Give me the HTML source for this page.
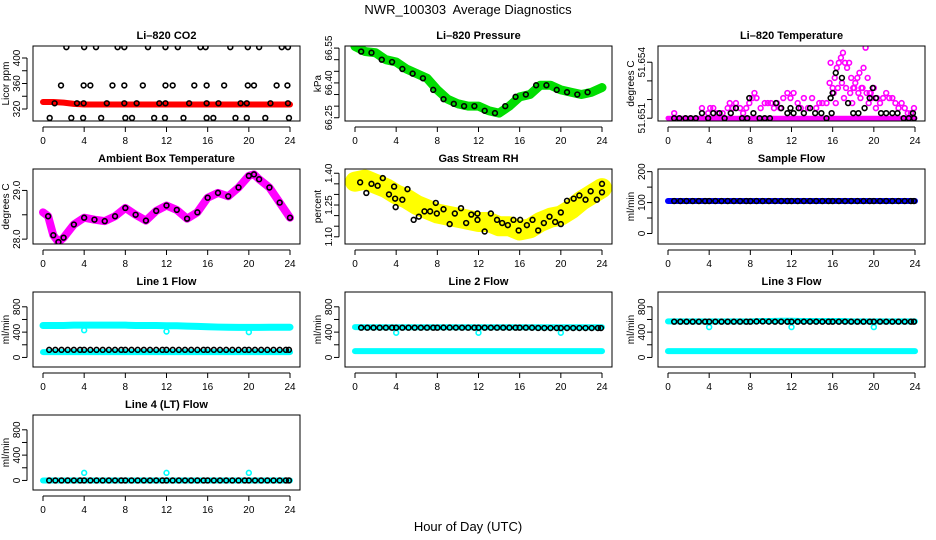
<!DOCTYPE html>
<html><head><meta charset="utf-8">
<style>
html,body{margin:0;padding:0;background:#fff;}
svg{display:block;font-family:"Liberation Sans",Arial,sans-serif;}
</style></head>
<body>
<svg id="chart" width="936" height="540" viewBox="0 0 936 540" xmlns="http://www.w3.org/2000/svg">
<rect width="936" height="540" fill="#fff"/>
<text x="468" y="14" text-anchor="middle" font-size="13">NWR_100303&#160; Average Diagnostics</text>
<text x="468" y="531" text-anchor="middle" font-size="13">Hour of Day (UTC)</text>
</svg>
<script>
const hours = [0,1,2,3,4,5,6,7,8,9,10,11,12,13,14,15,16,17,18,19,20,21,22,23,24];
const xTicks = [0,4,8,12,16,20,24];
const flowTimes = [0.6,1.2,1.8,2.4,3.0,3.6,4.0,4.6,5.2,5.8,6.4,7.0,7.6,8.0,8.6,9.2,9.8,10.4,11.0,11.6,12.0,12.6,13.2,13.8,14.4,15.0,15.6,16.0,16.6,17.2,17.8,18.4,19.0,19.6,20.0,20.6,21.2,21.8,22.4,23.0,23.6,23.9];

// CO2
const co2Band = [331,331,330,328,327,327,327,327,327,327,327,327,327,327,327,327,327,327,327,327,327,327,327,327,327];
const co2BlackT = [2.27,4.0,5.15,7.25,7.9,10.2,11.9,13.1,15.3,15.8,18.2,19.9,21.0,23.2,23.8,
 1.75,3.95,4.6,6.75,7.9,9.7,11.9,12.6,14.7,15.9,17.6,19.9,20.5,22.7,23.75,
 1.13,3.3,3.95,6.2,7.9,9.1,11.3,11.9,14.2,15.9,17.05,19.2,19.8,22.1,23.8,
 0.65,2.75,3.9,5.65,8.0,8.65,10.8,11.85,13.65,15.9,16.55,18.7,19.8,21.6,23.9];
const co2BlackV = [417,417,417,417,417,417,417,417,417,417,417,417,417,417,417,
 357,357,357,357,357,357,357,357,357,357,357,357,357,357,357,
 329,329,329,329,329,329,329,329,329,329,329,329,329,329,329,
 306,306,306,306,306,306,306,306,306,306,306,306,306,306,306];

// Pressure
const presBand = [66.557,66.535,66.53,66.50,66.49,66.46,66.44,66.42,66.37,66.33,66.31,66.30,66.30,66.28,66.27,66.30,66.34,66.35,66.39,66.39,66.37,66.36,66.35,66.36,66.38];

// Li-820 temperature (levels)
const tempMagT = [0.6,3.3,3.9,4.1,4.4,4.8,5.3,5.8,6.0,6.3,6.6,7.0,7.3,7.6,7.9,8.2,8.4,8.6,9.0,9.4,9.7,10.0,10.3,10.6,10.9,11.2,11.6,11.9,12.2,12.6,12.9,13.2,13.6,14.0,14.4,14.7,15.0,15.4,15.7,15.8,16.0,16.2,16.4,16.6,16.8,17.0,17.2,17.4,17.6,17.8,18.0,18.2,18.4,18.6,18.8,19.0,19.2,19.4,19.6,19.8,20.0,20.3,20.6,20.9,21.2,21.5,21.8,22.1,22.4,22.7,23.0,23.3,23.6,23.9,16.1,16.5,16.9,17.3,17.7,18.1,18.5,18.9,19.3,19.7,16.3,17.1,17.9,18.7,19.5,20.2];
const tempMagK = [1,2,1,2,2,1,1,2,3,2,3,2,1,2,3,4,5,4,2,3,3,3,2,3,2,4,5,4,5,3,2,4,2,4,2,3,3,3,7,11,6,8,10,11,12,13,11,10,11,8,6,7,8,9,6,10,14,8,5,4,6,4,3,4,5,4,4,3,2,3,2,1,1,2,5,6,7,6,5,6,5,6,5,5,3,4,3,4,3,2];
const tempBlkT = [0.6,1.1,1.7,2.2,2.7,3.3,3.9,4.4,5.0,5.5,6.1,6.6,7.2,7.7,7.9,8.3,8.9,9.4,9.9,10.5,11.0,11.6,11.9,12.2,12.7,13.2,13.8,14.3,14.9,15.4,15.9,15.8,16.0,16.3,16.9,17.5,18.0,18.5,19.1,19.6,19.9,20.2,20.7,21.2,21.8,22.3,22.9,23.4,23.8,23.9];
const tempBlkK = [0,0,0,0,0,1,0,1,1,0,1,2,0,0,4,1,0,0,0,3,2,1,2,1,2,1,2,1,1,0,1,4,5,9,8,3,1,1,2,4,6,4,1,1,1,1,0,0,1,0];

// Ambient box temperature
const ambT = [0,0.5,1,1.5,2,3,4,5,6,7,8,9,10,11,12,13,14,15,16,17,18,19,20,20.5,21,22,23,24];
const ambV = [28.55,28.47,28.08,27.94,28.03,28.3,28.44,28.4,28.37,28.47,28.64,28.5,28.38,28.58,28.69,28.6,28.42,28.55,28.85,28.95,28.88,29.06,29.3,29.33,29.23,29.06,28.75,28.44];

// Gas stream RH
const rhBand = [1.36,1.37,1.35,1.33,1.30,1.28,1.25,1.23,1.21,1.20,1.19,1.18,1.17,1.17,1.15,1.15,1.13,1.14,1.17,1.19,1.20,1.23,1.27,1.30,1.33];
const rhBlkT = [0.5,1.1,1.6,2.2,2.7,3.3,3.8,3.9,3.95,4.6,5.1,5.7,6.2,6.75,7.3,7.85,7.95,8.6,9.2,9.7,10.3,10.8,11.3,11.9,11.9,12.6,13.2,13.8,14.3,14.85,15.4,15.9,16.05,16.7,17.25,17.8,18.35,18.9,19.45,20,20,20.6,21.25,21.8,22.4,22.9,23.5,24,24];
const rhBlkV = [1.357,1.307,1.35,1.341,1.377,1.30,1.337,1.28,1.24,1.275,1.325,1.18,1.195,1.22,1.22,1.26,1.21,1.23,1.16,1.21,1.235,1.165,1.205,1.21,1.18,1.125,1.21,1.18,1.165,1.155,1.18,1.13,1.18,1.155,1.18,1.13,1.165,1.195,1.17,1.215,1.16,1.27,1.28,1.295,1.275,1.315,1.275,1.35,1.31];

// Flows
const sampleBand = [105,105,105,105,105,105,105,105,105,105,105,105,105,105,105,105,105,105,105,105,105,105,105,105,105];
const sampleBlk = [105,105,105,105,105,105,105,105,105,105,105,105,105,105,105,105,105,105,105,105,105,105,105,105,105];
const l1Upper = [505,505,505,510,510,510,510,510,510,505,505,505,500,500,495,490,485,480,478,475,475,475,478,478,478];
const l1Lower = [85,85,85,85,85,85,85,85,85,85,85,85,85,85,85,85,85,85,85,85,85,85,85,85,85];
const l1Blk = [120,120,120,120,120,120,120,120,120,120,120,120,120,120,120,120,120,120,120,120,120,120,120,120,120];
const l1OutT = [4,12,20]; const l1OutV = [430,410,400];
const l2Upper = [480,478,478,478,478,478,478,478,478,478,478,478,478,478,478,478,478,478,478,478,478,478,478,478,478];
const l2Lower = [100,100,100,100,100,100,100,100,100,100,100,100,100,100,100,100,100,100,100,100,100,100,100,100,100];
const l2Blk = [470,470,470,470,470,470,470,470,470,472,470,470,470,470,470,470,470,470,465,465,465,465,465,465,465];
const l2OutT = [4,12,20]; const l2OutV = [390,390,390];
const l3Upper = [570,570,570,570,570,570,570,570,570,575,575,580,580,575,575,575,575,575,570,570,570,570,570,570,570];
const l3Lower = [100,100,100,100,100,100,100,100,100,100,100,100,100,100,100,100,100,100,100,100,100,100,100,100,100];
const l3Blk = [565,565,565,565,565,565,565,565,565,570,565,565,565,565,565,565,565,565,565,565,565,565,565,565,565];
const l3OutT = [4,12,20]; const l3OutV = [480,480,480];
const l4Band = [0,0,0,0,0,0,0,0,0,0,0,0,0,0,0,0,0,0,0,0,0,0,0,0,0];
const l4Blk = [0,0,0,0,0,0,0,0,0,0,0,0,0,0,0,0,0,0,0,0,0,0,0,0,0];
const l4OutT = [4,12,20]; const l4OutV = [120,120,120];

const NS = "http://www.w3.org/2000/svg";
const svg = document.getElementById('chart');
function mk(tag, attrs, parent){ const e=document.createElementNS(NS,tag); for(const k in attrs) e.setAttribute(k,attrs[k]); (parent||svg).appendChild(e); return e; }
function interp(arr, t){ const i=Math.min(23,Math.floor(t)); const f=t-i; return arr[i]*(1-f)+arr[i+1]*f; }

const colLeft = [33,345,658];
const rowTop = [46,169,292,415];
function panel(o){
  const L=colLeft[o.col], T=rowTop[o.row], W=267, Hh=75;
  const g = mk('g',{});
  
  
  const x = h => L+10+h*(247/24);
  const y = v => T+Hh-(v-o.ymin)/(o.ymax-o.ymin)*Hh;
  const t = mk('text',{x:L+W/2,y:T-7,'text-anchor':'middle','font-size':11,'font-weight':'bold'},g);
  t.textContent=o.title;
  
  
  const yl = mk('text',{transform:`translate(${L-24},${T+Hh/2}) rotate(-90)`,'text-anchor':'middle','font-size':10},g);
  yl.textContent=o.ylab;
  
  
  mk('line',{x1:x(0),x2:x(24),y1:T+Hh+6,y2:T+Hh+6,stroke:'#000'},g);
  xTicks.forEach(h=>{ mk('line',{x1:x(h),x2:x(h),y1:T+Hh+6,y2:T+Hh+11,stroke:'#000'},g);
    const tl=mk('text',{x:x(h),y:T+Hh+23,'text-anchor':'middle','font-size':10},g); tl.textContent=h;
    
     });
  mk('line',{x1:L-6,x2:L-6,y1:y(o.yt[0]),y2:y(o.yt[o.yt.length-1]),stroke:'#000'},g);
  o.yt.forEach((v,i)=>{ mk('line',{x1:L-11,x2:L-6,y1:y(v),y2:y(v),stroke:'#000'},g);
    if(o.ylabIdx.includes(i)){ const tl=mk('text',{transform:`translate(${L-13},${y(v)}) rotate(-90)`,'text-anchor':'middle','font-size':10},g); tl.textContent=o.fmt(v);
      
       } });
  const clip = 'c'+o.name;
  const cp = mk('clipPath',{id:clip},g); mk('rect',{x:L,y:T,width:W,height:Hh},cp);
  const pg = mk('g',{'clip-path':`url(#${clip})`},g);
  o.draw(pg,x,y);
  mk('rect',{x:L,y:T,width:W,height:Hh,fill:'none',stroke:'#000'},g);
}
function band(g,x,y,ts,vs,color,w){
  const p=mk('polyline',{points:ts.map((t,i)=>x(t)+','+y(vs[i])).join(' '),fill:'none',stroke:color,'stroke-width':w,'stroke-linejoin':'round','stroke-linecap':'round'},g);
  
  
}
function pts(g,x,y,ts,vs,color){
  ts.forEach((t,i)=>{ const c=mk('circle',{cx:x(t),cy:y(vs[i]),r:2.4,fill:'none',stroke:color,'stroke-width':1.6},g);
    
     });
}
const flowYt=[0,200,400,600,800], flowLab=[0,2,4], intF=v=>String(v);

panel({name:'li820-co2-panel',title:'Li\u2013820 CO2',ylab:'Licor ppm',col:0,row:0,ymin:301.2,ymax:418.8,yt:[320,340,360,380,400],ylabIdx:[0,2,4],fmt:intF,
 draw:(g,x,y)=>{ band(g,x,y,hours,co2Band,'#ff0000',6); pts(g,x,y,co2BlackT,co2BlackV,'#000'); }});
panel({name:'li820-pressure-panel',title:'Li\u2013820 Pressure',ylab:'kPa',col:1,row:0,ymin:66.236,ymax:66.559,yt:[66.25,66.30,66.35,66.40,66.45,66.50,66.55],ylabIdx:[0,3,6],fmt:v=>v.toFixed(2),
 draw:(g,x,y)=>{ band(g,x,y,hours,presBand,'#00dd00',9); pts(g,x,y,hours.slice(1,24).map(h=>h-0.4),presBand.slice(1,24),'#000'); }});
panel({name:'li820-temperature-panel',title:'Li\u2013820 Temperature',ylab:'degrees C',col:2,row:0,ymin:51.65085,ymax:51.65487,yt:[51.651,51.652,51.653,51.654],ylabIdx:[0,3],fmt:v=>v.toFixed(3),
 draw:(g,x,y)=>{ band(g,x,y,[0,24],[51.651,51.651],'#ff00ff',5); pts(g,x,y,tempMagT,tempMagK.map(k=>51.651+k*0.00027),'#ff00ff'); pts(g,x,y,tempBlkT,tempBlkK.map(k=>51.651+k*0.00027),'#000'); }});
panel({name:'ambient-box-temperature-panel',title:'Ambient Box Temperature',ylab:'degrees C',col:0,row:1,ymin:27.90,ymax:29.44,yt:[28.0,28.5,29.0],ylabIdx:[0,2],fmt:v=>v.toFixed(1),
 draw:(g,x,y)=>{ band(g,x,y,ambT,ambV,'#ff00ff',8); pts(g,x,y,ambT.slice(1),ambV.slice(1),'#000'); }});
panel({name:'gas-stream-rh-panel',title:'Gas Stream RH',ylab:'percent',col:1,row:1,ymin:1.066,ymax:1.42,yt:[1.10,1.15,1.20,1.25,1.30,1.35,1.40],ylabIdx:[0,3,6],fmt:v=>v.toFixed(2),
 draw:(g,x,y)=>{ band(g,x,y,hours,rhBand,'#ffff00',20); pts(g,x,y,rhBlkT,rhBlkV,'#000'); }});
panel({name:'sample-flow-panel',title:'Sample Flow',ylab:'ml/min',col:2,row:1,ymin:-34,ymax:208.6,yt:[0,50,100,150,200],ylabIdx:[0,2,4],fmt:intF,
 draw:(g,x,y)=>{ band(g,x,y,hours,sampleBand,'#0000ff',6); pts(g,x,y,flowTimes,flowTimes.map(t=>interp(sampleBlk,t)),'#000'); }});
panel({name:'line1-flow-panel',title:'Line 1 Flow',ylab:'ml/min',col:0,row:2,ymin:-151,ymax:1034,yt:flowYt,ylabIdx:flowLab,fmt:intF,
 draw:(g,x,y)=>{ band(g,x,y,hours,l1Upper,'#00ffff',7); band(g,x,y,hours,l1Lower,'#00ffff',6); pts(g,x,y,l1OutT,l1OutV,'#00ffff'); pts(g,x,y,flowTimes,flowTimes.map(t=>interp(l1Blk,t)),'#000'); }});
panel({name:'line2-flow-panel',title:'Line 2 Flow',ylab:'ml/min',col:1,row:2,ymin:-151,ymax:1034,yt:flowYt,ylabIdx:flowLab,fmt:intF,
 draw:(g,x,y)=>{ band(g,x,y,hours,l2Upper,'#00ffff',6); band(g,x,y,hours,l2Lower,'#00ffff',6); pts(g,x,y,l2OutT,l2OutV,'#00ffff'); pts(g,x,y,flowTimes,flowTimes.map(t=>interp(l2Blk,t)),'#000'); }});
panel({name:'line3-flow-panel',title:'Line 3 Flow',ylab:'ml/min',col:2,row:2,ymin:-151,ymax:1034,yt:flowYt,ylabIdx:flowLab,fmt:intF,
 draw:(g,x,y)=>{ band(g,x,y,hours,l3Upper,'#00ffff',6); band(g,x,y,hours,l3Lower,'#00ffff',6); pts(g,x,y,l3OutT,l3OutV,'#00ffff'); pts(g,x,y,flowTimes,flowTimes.map(t=>interp(l3Blk,t)),'#000'); }});
panel({name:'line4-flow-panel',title:'Line 4 (LT) Flow',ylab:'ml/min',col:0,row:3,ymin:-151,ymax:1034,yt:flowYt,ylabIdx:flowLab,fmt:intF,
 draw:(g,x,y)=>{ band(g,x,y,hours,l4Band,'#00ffff',6); pts(g,x,y,l4OutT,l4OutV,'#00ffff'); pts(g,x,y,flowTimes,flowTimes.map(t=>interp(l4Blk,t)),'#000'); }});
</script>
</body></html>
